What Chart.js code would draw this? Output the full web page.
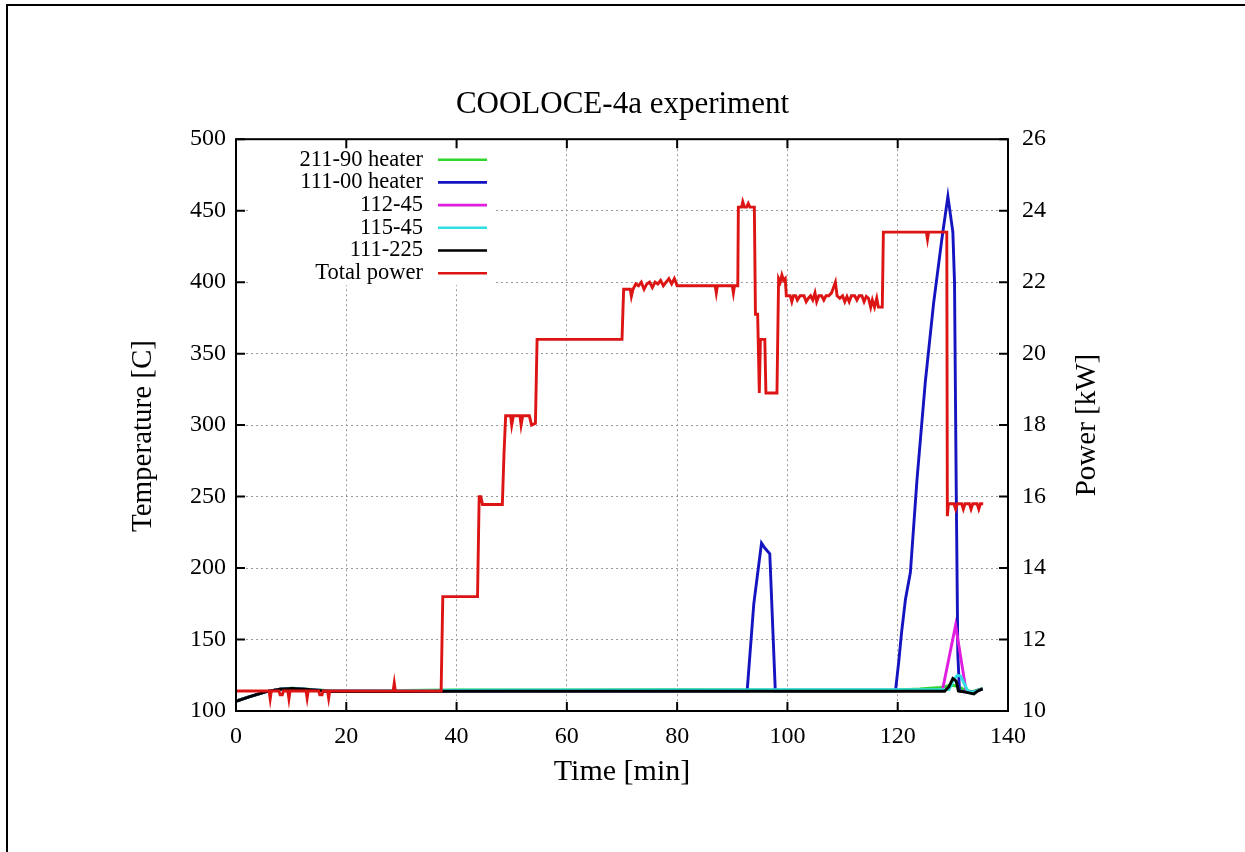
<!DOCTYPE html>
<html><head><meta charset="utf-8">
<script src="https://cdn.jsdelivr.net/npm/chart.js@4.4.1/dist/chart.umd.min.js"></script>
<style>html,body{margin:0;padding:0;background:#fff;}canvas{display:block;}</style>
</head><body>
<canvas id="c" width="1245" height="852"></canvas>
<script>
const FONT = '"Liberation Serif","DejaVu Serif","Times New Roman",serif';
const chartTitle = 'COOLOCE-4a experiment';
const xTitle = 'Time [min]';
const yTitle = 'Temperature [C]';
const y2Title = 'Power [kW]';

const seriesNames = ['211-90 heater', '111-00 heater', '112-45', '115-45', '111-225', 'Total power'];
const seriesColors = ['#2fd62f', '#1414c0', '#e01ee0', '#2ee0e0', '#000000', '#dc1414'];

// Temperatures [C] vs time [min]
const greenTime = [0, 2.5, 5.5, 8, 10.2, 13, 16.9, 30, 40, 60, 80, 100, 120, 124, 127.8, 129, 130, 131, 132, 133.5, 135.4];
const greenTemp = [107, 110, 113.6, 115.2, 115.9, 115.2, 114.2, 114.4, 114.8, 114.8, 114.9, 114.8, 114.8, 115.5, 116.5, 117.5, 118, 117, 115, 113.5, 115.8];

const blueTime = [0, 2.5, 5.5, 8, 10.2, 13, 16.9, 30, 50, 92.7, 93.9, 95.3, 95.9, 96.8, 97.8, 119.6, 120.2, 120.7, 121.4, 122.3, 123.5, 125, 126.5, 128, 129.1, 130, 130.3, 130.6, 130.9, 131.2, 133.5, 135.4];
const blueTemp = [107, 110, 113.6, 115.2, 115.8, 115, 113.9, 114, 114.2, 114.2, 175, 217.5, 214, 210, 114.2, 114.2, 135, 155, 178, 197, 262, 330, 385, 430, 460, 435, 400, 260, 140, 114, 113, 115.5];

const magentaTime = [0, 2.5, 5.5, 8, 10.2, 13, 16.9, 40, 128.1, 130.5, 132.4, 133.5, 135.4];
const magentaTemp = [107, 110, 113.6, 115.2, 115.8, 115, 114, 114.3, 114.3, 160, 114, 113, 115.5];

const cyanTime = [0, 2.5, 5.5, 8, 10.2, 13, 16.9, 40, 129.3, 130.2, 130.8, 131.4, 132.7, 133.5, 135.4];
const cyanTemp = [107, 110, 113.6, 115.2, 115.9, 115.1, 114.1, 114.6, 115, 122, 125, 124.5, 114, 113, 115.5];

const blackTime = [0, 2.5, 5.5, 8, 10.2, 13, 16.9, 30, 40, 80, 128.5, 129.3, 130, 130.6, 131, 132.5, 133.8, 134.5, 135.4];
const blackTemp = [106.8, 110, 113.6, 115.2, 115.7, 115, 113.6, 113.6, 113.8, 113.8, 113.8, 117, 122.8, 121, 114, 113, 112, 114, 115.5];

// Total power [kW] vs time [min]
const powerTime = [0, 6.0, 6.2, 6.4, 7.8, 8.0, 8.4, 8.6, 9.4, 9.6, 9.8, 12.7, 12.9, 13.1, 15.0, 15.2, 15.6, 15.8, 16.6, 16.8, 17.0,
  28.5, 28.7, 28.9, 37.2, 37.5, 43.8, 44.1, 44.4, 44.7, 48.3, 48.6, 48.9, 49.8, 50.0, 50.3, 51.5, 51.7, 52.0, 53.2, 53.6, 54.3, 54.6,
  70.0, 70.3, 71.5, 71.7, 72, 72.5, 73, 73.5, 74, 74.5, 75, 75.5, 76, 76.5, 77, 77.5, 78, 78.5, 79, 79.5, 80, 80.2,
  86.9, 87.1, 87.3, 90.0, 90.2, 90.4, 91.0, 91.1, 91.7, 91.9, 92.2, 92.6, 92.9, 93.2, 94.0, 94.2, 94.6, 94.9, 95.1, 95.9, 96.1, 98.1,
  98.4, 98.7, 99.0, 99.3, 99.6, 99.8, 100.5, 100.8, 101.1, 101.5, 101.8, 102.3, 103, 103.4, 103.8, 104.2, 104.6, 105, 105.3, 105.7,
  106.2, 106.6, 107, 107.5, 108, 108.7, 109, 109.5, 110, 110.4, 110.8, 111.2, 111.6, 112.2, 112.6, 113, 113.5, 113.9, 114.3, 114.7,
  115.1, 115.4, 115.8, 116.2, 116.5, 117.2, 117.4, 125.2, 125.4, 125.6, 128.9, 129.0, 129.2, 130.2, 130.5, 130.8, 131.6, 131.9,
  132.2, 133, 133.3, 133.6, 134.4, 134.7, 135, 135.5];
const powerKW = [10.56, 10.56, 10.34, 10.56, 10.56, 10.45, 10.45, 10.56, 10.56, 10.34, 10.56, 10.56, 10.36, 10.56, 10.56, 10.45, 10.45, 10.56, 10.56, 10.36, 10.56,
  10.56, 10.78, 10.56, 10.56, 13.2, 13.2, 16.0, 16.0, 15.78, 15.78, 17.2, 18.26, 18.26, 18.0, 18.26, 18.26, 18.0, 18.26, 18.26, 18.0, 18.05, 20.4,
  20.4, 21.8, 21.8, 21.6, 21.8, 21.95, 21.9, 22.0, 21.8, 21.95, 22.0, 21.85, 22.0, 21.95, 22.05, 21.9, 22.0, 22.1, 21.95, 22.1, 21.9, 21.9,
  21.9, 21.7, 21.9, 21.9, 21.7, 21.9, 21.9, 24.1, 24.1, 24.25, 24.1, 24.1, 24.2, 24.1, 24.1, 21.1, 21.1, 18.9, 20.4, 20.4, 18.9, 18.9,
  22.1, 22.0, 22.2, 22.05, 22.1, 21.62, 21.62, 21.45, 21.62, 21.62, 21.5, 21.62, 21.62, 21.45, 21.55, 21.62, 21.5, 21.7, 21.45, 21.62,
  21.62, 21.5, 21.62, 21.62, 21.7, 22.0, 21.62, 21.55, 21.62, 21.45, 21.6, 21.45, 21.62, 21.62, 21.5, 21.62, 21.62, 21.45, 21.6, 21.55,
  21.3, 21.5, 21.3, 21.55, 21.3, 21.3, 23.4, 23.4, 23.2, 23.4, 23.4, 15.45, 15.8, 15.8, 15.65, 15.8, 15.8, 15.65,
  15.8, 15.8, 15.65, 15.8, 15.8, 15.65, 15.8, 15.8];

const xTicksStep = 20, yTicksStep = 50, y2TicksStep = 2;

function xy(t, v) { return t.map((x, i) => ({x: x, y: v[i]})); }

const datasets = [
  {label: seriesNames[0], data: xy(greenTime, greenTemp), borderColor: seriesColors[0], yAxisID: 'y', order: 6},
  {label: seriesNames[1], data: xy(blueTime, blueTemp), borderColor: seriesColors[1], yAxisID: 'y', order: 5},
  {label: seriesNames[2], data: xy(magentaTime, magentaTemp), borderColor: seriesColors[2], yAxisID: 'y', order: 4},
  {label: seriesNames[3], data: xy(cyanTime, cyanTemp), borderColor: seriesColors[3], yAxisID: 'y', order: 3},
  {label: seriesNames[4], data: xy(blackTime, blackTemp), borderColor: seriesColors[4], yAxisID: 'y', order: 2},
  {label: seriesNames[5], data: xy(powerTime, powerKW), borderColor: seriesColors[5], yAxisID: 'y1', order: 1}
];

const deco = {
  id: 'deco',
  beforeDraw(chart) {
    const ctx = chart.ctx;
    ctx.save(); ctx.fillStyle = '#fff'; ctx.fillRect(0, 0, chart.width, chart.height); ctx.restore();
  },
  beforeDatasetsDraw(chart) {
    const ctx = chart.ctx, a = chart.chartArea;
    ctx.save(); ctx.fillStyle = '#fff'; ctx.fillRect(a.left + 12, a.top + 5, 245, 141); ctx.restore();
  },
  afterDraw(chart) {
    const ctx = chart.ctx, a = chart.chartArea;
    const sx = chart.scales.x, sy = chart.scales.y, sy2 = chart.scales.y1;
    ctx.save();
    // frame
    ctx.strokeStyle = '#000'; ctx.lineWidth = 2;
    ctx.strokeRect(a.left, a.top, a.right - a.left, a.bottom - a.top);
    // inward ticks
    ctx.beginPath();
    sx.ticks.forEach(t => { const px = sx.getPixelForValue(t.value); ctx.moveTo(px, a.bottom); ctx.lineTo(px, a.bottom - 9); ctx.moveTo(px, a.top); ctx.lineTo(px, a.top + 9); });
    sy.ticks.forEach(t => { const py = sy.getPixelForValue(t.value); ctx.moveTo(a.left, py); ctx.lineTo(a.left + 9, py); });
    sy2.ticks.forEach(t => { const py = sy2.getPixelForValue(t.value); ctx.moveTo(a.right, py); ctx.lineTo(a.right - 9, py); });
    ctx.stroke();
    // legend
    ctx.font = '22.5px ' + FONT; ctx.fillStyle = '#000'; ctx.textAlign = 'right'; ctx.textBaseline = 'middle';
    seriesNames.forEach((n, i) => {
      const y = a.top + 20.5 + i * 22.7;
      ctx.fillText(n, a.left + 187, y);
      ctx.strokeStyle = seriesColors[i]; ctx.lineWidth = 2.6;
      ctx.beginPath(); ctx.moveTo(a.left + 202, y); ctx.lineTo(a.left + 251, y); ctx.stroke();
    });
    ctx.restore();
    // left axis title
    ctx.save();
    ctx.translate(143, 436);
    ctx.rotate(-Math.PI / 2);
    ctx.textAlign = 'center'; ctx.textBaseline = 'middle'; ctx.font = '29px ' + FONT; ctx.fillStyle = '#000';
    ctx.fillText(yTitle, 0, 0);
    ctx.restore();
    // right axis title (reads bottom to top)
    ctx.save();
    ctx.translate(1087, 425);
    ctx.rotate(-Math.PI / 2);
    ctx.textAlign = 'center'; ctx.textBaseline = 'middle'; ctx.font = '29px ' + FONT; ctx.fillStyle = '#000';
    ctx.fillText(y2Title, 0, 0);
    ctx.restore();
    // outer page frame
    ctx.save(); ctx.fillStyle = '#000';
    ctx.fillRect(6, 4, chart.width - 6, 2);
    ctx.fillRect(6, 4, 2, chart.height - 4);
    ctx.restore();
  }
};

const gridOpts = {color: '#9a9a9a', lineWidth: 1, drawTicks: false};
new Chart(document.getElementById('c'), {
  type: 'line',
  data: {datasets: datasets},
  options: {
    responsive: false, animation: false, devicePixelRatio: 1,
    layout: {padding: 0},
    elements: {point: {radius: 0}, line: {borderWidth: 2.9, tension: 0, fill: false}},
    plugins: {
      legend: {display: false}, tooltip: {enabled: false},
      title: {display: true, text: chartTitle, color: '#000', font: {family: FONT, size: 31, weight: 'normal'}, padding: {top: 86, bottom: 16}}
    },
    scales: {
      x: {type: 'linear', min: 0, max: 140,
        ticks: {stepSize: xTicksStep, color: '#000', font: {family: FONT, size: 24}, padding: 11, maxRotation: 0},
        grid: gridOpts, border: {display: false, dash: [2, 3]},
        title: {display: true, text: xTitle, color: '#000', font: {family: FONT, size: 30}, padding: {top: 0, bottom: 62}},
        afterFit(s) { s.height = 141; }},
      y: {position: 'left', min: 100, max: 500,
        ticks: {stepSize: yTicksStep, color: '#000', font: {family: FONT, size: 24}, padding: 10},
        grid: gridOpts, border: {display: false, dash: [2, 3]},
        title: {display: false},
        afterFit(s) { s.width = 236; }},
      y1: {position: 'right', min: 10, max: 26,
        ticks: {stepSize: y2TicksStep, color: '#000', font: {family: FONT, size: 24}, padding: 14},
        grid: {display: false, drawTicks: false}, border: {display: false},
        afterFit(s) { s.width = 237; }}
    }
  },
  plugins: [deco]
});
</script>
</body></html>
